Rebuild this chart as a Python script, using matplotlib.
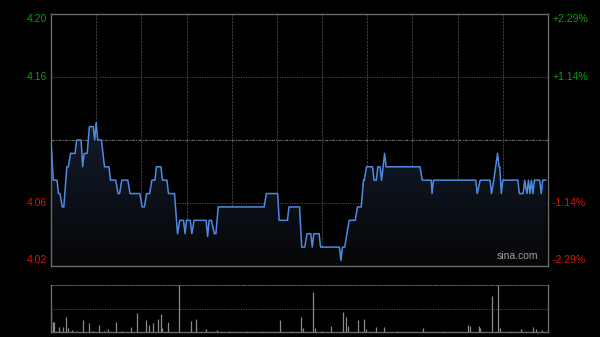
import matplotlib
matplotlib.use("Agg")
import matplotlib.pyplot as plt
import numpy as np
from matplotlib.colors import LinearSegmentedColormap

plt.rcParams['font.family'] = ['Liberation Sans', 'DejaVu Sans']

# intraday price, minutes since 9:30 (lunch break removed), HKD
prev_close = 4.11
minutes = [0, 1.5, 4, 5, 6, 7.5, 8.5, 10.5, 11.5, 13, 16, 17, 20, 21, 22, 24, 25.5, 28, 29, 30,
           31, 33.5, 35.5, 38.5, 39.5, 43, 44.5, 45.5, 47, 51, 52.5, 59, 60.5, 62, 63.5, 65.5,
           67, 69, 70, 73, 74, 77, 78, 82, 84, 85.5, 88, 89, 90, 92.5, 93.5, 95, 103, 104,
           105, 106.5, 108.5, 109.5, 111, 141.5, 143, 150.5, 151.5, 157, 158, 165, 166.5,
           168.5, 170, 172.5, 173.5, 174.5, 178, 179, 191.5, 192.5, 193.5, 195, 198, 202,
           203.5, 206, 207.5, 208, 209.5, 213.5, 214.5, 216, 217, 218.5, 219.5, 221.5, 222.5,
           245, 246.5, 252.5, 253, 254, 282, 283, 285, 291.5, 292.5, 294, 296.5, 297.5, 298,
           299, 300, 310, 311, 313.5, 314.5, 316, 317, 318, 319, 320, 321, 324.5, 325.5,
           326.5, 328.5]
prices = [4.11, 4.08, 4.08, 4.07, 4.07, 4.06, 4.06, 4.09, 4.09, 4.10, 4.10, 4.11, 4.11, 4.09,
          4.10, 4.10, 4.12, 4.12, 4.11, 4.123, 4.11, 4.11, 4.09, 4.09, 4.08, 4.08, 4.07, 4.07,
          4.08, 4.08, 4.07, 4.07, 4.06, 4.06, 4.07, 4.07, 4.08, 4.08, 4.09, 4.09, 4.08, 4.08,
          4.07, 4.07, 4.04, 4.05, 4.05, 4.04, 4.05, 4.05, 4.04, 4.05, 4.05, 4.038, 4.05, 4.05,
          4.04, 4.04, 4.06, 4.06, 4.07, 4.07, 4.05, 4.05, 4.06, 4.06, 4.03, 4.03, 4.04, 4.04,
          4.03, 4.04, 4.04, 4.03, 4.03, 4.02, 4.03, 4.03, 4.05, 4.05, 4.06, 4.06, 4.08, 4.08,
          4.09, 4.09, 4.08, 4.08, 4.09, 4.09, 4.08, 4.10, 4.09, 4.09, 4.08, 4.08, 4.07, 4.08,
          4.08, 4.07, 4.08, 4.08, 4.07, 4.08, 4.10, 4.09, 4.09, 4.07, 4.08, 4.08, 4.07, 4.07,
          4.08, 4.07, 4.08, 4.07, 4.08, 4.07, 4.08, 4.08, 4.07, 4.08, 4.08]

# volume (arbitrary units)
vol_minutes = [0, 1, 2, 3, 5, 6, 8, 10, 11, 14, 17, 21, 25, 28, 32, 35, 38, 43, 47, 53, 57, 63,
               65, 68, 71, 73, 74, 78, 85, 93, 96, 103, 110, 118, 130, 140, 152, 160, 166, 167,
               174, 175, 180, 186, 194, 196, 197, 204, 208, 209, 216, 221, 230, 247, 260, 277,
               278, 284, 285, 293, 297, 298, 305, 312, 320, 322, 326]
volumes = [187, 100, 97, 15, 47, 12, 53, 147, 40, 23, 15, 120, 93, 12, 70, 15, 27, 100, 12, 53,
           187, 120, 73, 93, 130, 177, 40, 100, 470, 110, 130, 27, 17, 12, 12, 15, 120, 12, 147,
           37, 400, 40, 15, 57, 203, 147, 57, 120, 130, 27, 53, 53, 12, 40, 12, 70, 57, 57, 40,
           363, 470, 40, 15, 27, 53, 30, 20]

pct_levels = [2.29, 1.14, -1.14, -2.29]

fig = plt.figure(figsize=(6, 3.37), dpi=100, facecolor='black')
ax = fig.add_axes([51 / 600, 1 - 266 / 337, 497 / 600, 252 / 337], facecolor='black')
axv = fig.add_axes([51 / 600, 1 - 332 / 337, 497 / 600, 47 / 337], facecolor='black')

ymin = prev_close * (1 - pct_levels[0] / 100)
ymax = prev_close * (1 + pct_levels[0] / 100)

# gradient fill under the price line
poly = ax.fill_between(minutes, prices, ymin, color='none', lw=0)
cmap = LinearSegmentedColormap.from_list('fill', ['#050608', '#131c2c'])
grad = np.linspace(0, 1, 256).reshape(-1, 1)
im = ax.imshow(grad, extent=[0, 330, ymin, max(prices)], aspect='auto', cmap=cmap,
               origin='lower', zorder=1)
im.set_clip_path(poly.get_paths()[0], transform=ax.transData)
ax.plot(minutes, prices, color='#4f8ae0', lw=1.1, zorder=3)

ax.set_xlim(0, 330)
ax.set_ylim(ymin, ymax)
for m in range(30, 330, 30):
    ax.axvline(m, color='#3c3c3c', lw=0.8, ls=(0, (2, 1)), zorder=0)
for p in pct_levels[1:3]:
    ax.axhline(prev_close * (1 + p / 100), color='#5a5a5a', lw=0.7, ls=(0, (1, 1.5)), zorder=0)
ax.axhline(prev_close, color='#666666', lw=0.8, ls=(0, (3, 1, 1, 1)), zorder=0)
ax.set_xticks([])
ax.set_yticks([])
for s in ax.spines.values():
    s.set_color('#6a6a6a')
    s.set_linewidth(1)

# price / percent labels
for p in pct_levels:
    y = prev_close * (1 + p / 100)
    off = -3.6 if p == pct_levels[0] else (4.3 if p == pct_levels[-1] else 0)
    col = '#0aa00a' if p > 0 else '#d41a0a'
    ax.annotate(f"{y:.2f}", xy=(0, y), xycoords=('axes fraction', 'data'),
                xytext=(-3, off), textcoords='offset points', ha='right', va='center',
                color=col, fontsize=7.5)
    ax.annotate(f"{p:+.2f}%", xy=(1, y), xycoords=('axes fraction', 'data'),
                xytext=(3.5, off), textcoords='offset points', ha='left', va='center',
                color=col, fontsize=7.5)

ax.text(0.98, 0.02, 'sina.com', transform=ax.transAxes, ha='right', va='bottom',
        color='#a0a0a0', fontsize=7.5)

# volume panel
axv.vlines(vol_minutes, 0, volumes, color='#8a8a8a', lw=0.9)
axv.set_xlim(0, 330)
axv.set_ylim(0, 470)
axv.axhline(235, color='#5a5a5a', lw=0.7, ls=(0, (1, 1.5)))
axv.set_xticks([])
axv.set_yticks([])
for name, s in axv.spines.items():
    s.set_color('#6a6a6a')
    s.set_linewidth(1)
axv.spines['top'].set_linestyle((0, (1, 1.5)))
axv.spines['top'].set_linewidth(0.7)

fig.savefig('out.png', dpi=100, facecolor='black')
